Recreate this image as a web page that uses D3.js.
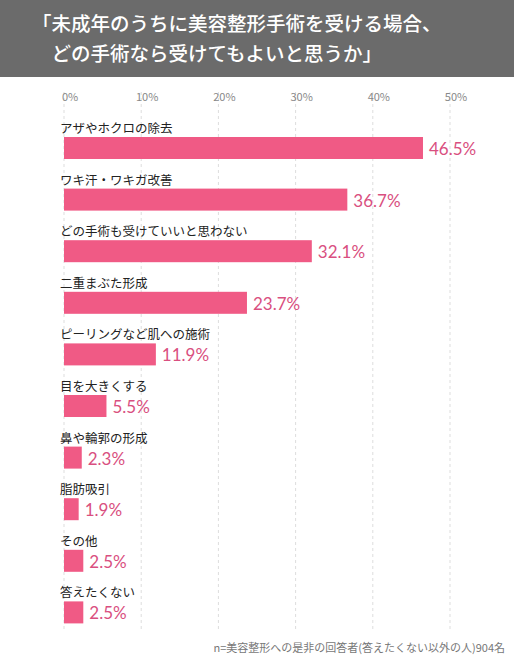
<!DOCTYPE html>
<html><head><meta charset="utf-8">
<script src="https://cdn.jsdelivr.net/npm/d3@7"></script>
<style>body{margin:0;background:#fff}svg{display:block;font-family:"Noto Sans CJK JP",sans-serif}</style>
</head><body><div id="chart"></div>
<script>
const categories = ["アザやホクロの除去","ワキ汗・ワキガ改善","どの手術も受けていいと思わない","二重まぶた形成","ピーリングなど肌への施術","目を大きくする","鼻や輪郭の形成","脂肪吸引","その他","答えたくない"];
const values = [46.5, 36.7, 32.1, 23.7, 11.9, 5.5, 2.3, 1.9, 2.5, 2.5];
const ticks = [0, 10, 20, 30, 40, 50];
const titleLines = ["「未成年のうちに美容整形手術を受ける場合、", "　どの手術なら受けてもよいと思うか」"];
const note = "n=美容整形への是非の回答者(答えたくない以外の人)904名";

const W = 514, H = 660;
const svg = d3.select("#chart").append("svg").attr("width", W).attr("height", H);

svg.append("rect").attr("width", W).attr("height", 77).attr("fill", "#6b6b6b");
svg.selectAll(".title").data(titleLines).enter().append("text")
  .attr("x", 32).attr("y", (d, i) => 31 + i * 30)
  .attr("fill", "#fff").attr("font-size", 19.5).attr("font-weight", 500)
  .text(d => d);

const x = d3.scaleLinear().domain([0, 50]).range([64, 450]);
const y = d3.scaleBand().domain(categories).range([121, 637]);

svg.selectAll(".grid").data(ticks).enter().append("line")
  .attr("x1", d => x(d)).attr("x2", d => x(d))
  .attr("y1", 92).attr("y2", 632)
  .attr("stroke", "#ddd").attr("stroke-dasharray", "3,3");

svg.selectAll(".tick").data(ticks).enter().append("text")
  .attr("x", d => x(d) + 6).attr("y", 101).attr("text-anchor", "middle")
  .attr("fill", "#888").attr("font-size", 11).text(d => d + "%");

const row = svg.selectAll(".row").data(categories).enter().append("g")
  .attr("transform", d => `translate(0,${y(d)})`);

row.append("text").attr("x", 60).attr("y", 12)
  .attr("font-size", 12.5).attr("fill", "#222").text(d => d);

row.append("rect").attr("x", x(0)).attr("y", 16)
  .attr("width", (d, i) => x(values[i]) - x(0)).attr("height", 22)
  .attr("fill", "#f05a85");

row.append("text").attr("x", (d, i) => x(values[i]) + 6).attr("y", 34)
  .attr("font-size", 17).attr("fill", "#d94f80").attr("font-family", "Lato, sans-serif")
  .text((d, i) => values[i] + "%");

svg.append("text").attr("x", 505).attr("y", 652).attr("text-anchor", "end")
  .attr("font-size", 11).attr("fill", "#777").text(note);
</script></body></html>
